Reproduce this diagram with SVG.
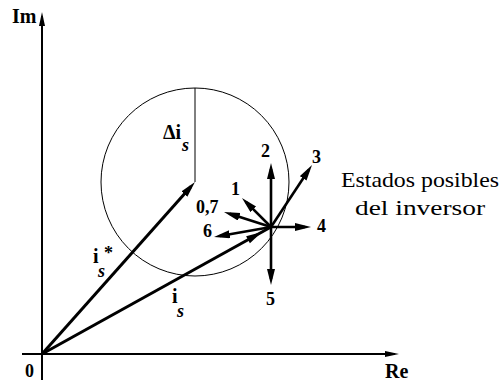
<svg xmlns="http://www.w3.org/2000/svg" width="502" height="381" viewBox="0 0 502 381">
<style>
text{font-family:"Liberation Serif","DejaVu Serif","Times New Roman",serif;fill:#000}
.b{font-weight:bold}
.it{font-style:italic;font-weight:bold}
.num{font-weight:bold;font-size:18px}
.ax{stroke:#000;stroke-width:2;fill:none}
.vec{stroke:#000;stroke-width:3;fill:none}
.st{stroke:#000;stroke-width:2.6;fill:none}
.thin{stroke:#000;stroke-width:1;fill:none}
</style>
<defs>
<marker id="ah" markerUnits="userSpaceOnUse" markerWidth="18" markerHeight="10" refX="10" refY="4" orient="auto">
<path d="M0,0 L16,4 L0,8 z" fill="#000"/>
</marker>
<marker id="axh" markerUnits="userSpaceOnUse" markerWidth="16" markerHeight="8" refX="10" refY="3" orient="auto">
<path d="M0,0 L14,3 L0,6 z" fill="#000"/>
</marker>
</defs>
<g id="axes">
<line class="ax" x1="42" y1="380" x2="42" y2="16" marker-end="url(#axh)"/>
<line class="ax" x1="22" y1="354" x2="395" y2="354" marker-end="url(#axh)"/>
<text class="b" x="12" y="23" font-size="20">Im</text>
<text class="b" x="25" y="377" font-size="18">0</text>
<text class="b" x="385" y="378" font-size="20">Re</text>
</g>
<g id="circle">
<circle class="thin" cx="195" cy="182" r="94"/>
<line class="thin" x1="195" y1="88" x2="195" y2="182"/>
<text class="b" x="163" y="139" font-size="20">Δi</text>
<text class="it" x="182" y="151" font-size="18">s</text>
</g>
<g id="connectors">
<line class="vec" x1="42" y1="354" x2="191" y2="186.5" marker-end="url(#ah)"/>
<line class="vec" x1="42" y1="354" x2="271" y2="227"/>
<polygon points="262,232 249.9,243.3 246.1,236.3" fill="#000"/>
<line class="st" x1="271" y1="227" x2="271" y2="169" marker-end="url(#ah)"/>
<line class="st" x1="271" y1="227" x2="308.7" y2="170" marker-end="url(#ah)"/>
<line class="st" x1="271" y1="227" x2="305" y2="227" marker-end="url(#ah)"/>
<line class="st" x1="271" y1="227" x2="271" y2="279" marker-end="url(#ah)"/>
<line class="st" x1="271" y1="227" x2="246.2" y2="202.2" marker-end="url(#ah)"/>
<line class="st" x1="271" y1="227" x2="229.7" y2="213.8" marker-end="url(#ah)"/>
<line class="st" x1="271" y1="227" x2="219.9" y2="236" marker-end="url(#ah)"/>
</g>
<g id="vector-labels">
<text class="b" x="93" y="263" font-size="20">i</text>
<text class="it" x="98" y="277" font-size="18">s</text>
<text class="b" x="104" y="259" font-size="18">*</text>
<text class="b" x="172" y="303" font-size="20">i</text>
<text class="it" x="177" y="317" font-size="18">s</text>
</g>
<g id="states">
<text class="num" x="261" y="157">2</text>
<text class="num" x="312" y="163">3</text>
<text class="num" x="231" y="195">1</text>
<text class="num" x="317" y="232">4</text>
<text class="num" x="266" y="305">5</text>
<text class="num" x="196" y="213">0,7</text>
<text class="num" x="203" y="237">6</text>
</g>
<g id="caption">
<text x="341" y="187" font-size="22" textLength="158" lengthAdjust="spacingAndGlyphs">Estados posibles</text>
<text x="355" y="215" font-size="22" textLength="130" lengthAdjust="spacingAndGlyphs">del inversor</text>
</g>
</svg>
